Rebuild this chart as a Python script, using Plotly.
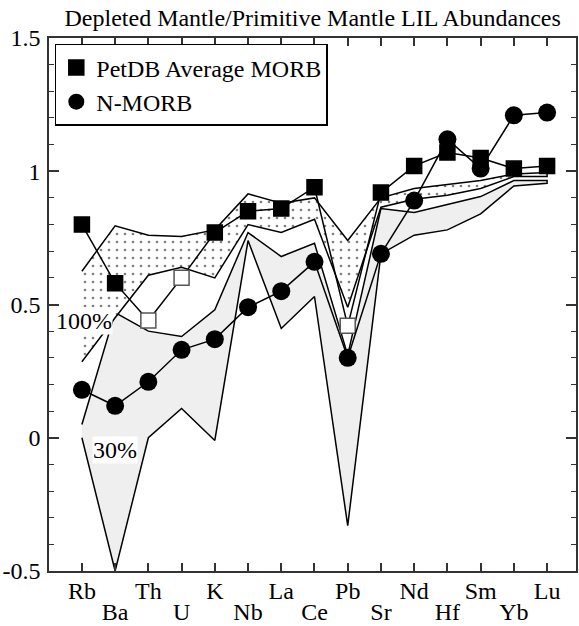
import plotly.graph_objects as go

# Element order along the x axis
elements = ["Rb", "Ba", "Th", "U", "K", "Nb", "La", "Ce", "Pb",
            "Sr", "Nd", "Hf", "Sm", "Yb", "Lu"]

# PetDB average MORB (open symbols where the value is less certain)
petdb = [0.80, 0.58, 0.44, 0.60, 0.77, 0.85, 0.86, 0.94, 0.42,
         0.92, 1.02, 1.07, 1.05, 1.01, 1.02]
petdb_open = ["Th", "U", "Pb"]

# N-MORB
nmorb = [0.18, 0.12, 0.21, 0.33, 0.37, 0.49, 0.55, 0.66, 0.30,
         0.69, 0.89, 1.12, 1.01, 1.21, 1.22]

# Model envelope, 100% case (stippled band)
band100_hi = [0.625, 0.795, 0.76, 0.755, 0.78, 0.915, 0.88, 0.90, 0.74,
              0.90, 0.935, 0.95, 0.965, 0.99, 0.995]
band100_lo = [0.285, 0.45, 0.61, 0.64, 0.60, 0.80, 0.77, 0.82, 0.49,
              0.865, 0.895, 0.91, 0.935, 0.98, 0.98]

# Model envelope, 30% case (grey band)
band30_hi = [0.05, 0.47, 0.40, 0.38, 0.48, 0.77, 0.68, 0.73, 0.31,
             0.86, 0.845, 0.875, 0.905, 0.965, 0.965]
band30_lo = [0.00, -0.50, 0.00, 0.11, -0.01, 0.74, 0.41, 0.53, -0.33,
             0.69, 0.76, 0.78, 0.84, 0.945, 0.955]

y_ticks = [-0.5, 0, 0.5, 1, 1.5]
y_ticktext = ["-0.5", "0", "0.5", "1", "1.5"]

FONT = "Liberation Serif"
FS = 24
idx = list(range(len(elements)))
ridx = idx[::-1]

fig = go.Figure()

# grey 30% envelope
fig.add_trace(go.Scatter(
    x=idx + ridx, y=band30_hi + band30_lo[::-1],
    mode="lines", fill="toself", fillcolor="#efefef",
    line=dict(color="black", width=1.5), showlegend=False, hoverinfo="skip"))

# stippled 100% envelope
fig.add_trace(go.Scatter(
    x=idx + ridx, y=band100_hi + band100_lo[::-1],
    mode="lines", fill="toself", fillcolor="white",
    fillpattern=dict(shape=".", fgcolor="black", bgcolor="white",
                     size=8, solidity=0.09),
    line=dict(color="black", width=1.5), showlegend=False, hoverinfo="skip"))

# connecting lines
fig.add_trace(go.Scatter(x=idx, y=nmorb, mode="lines", xaxis="x2",
                         line=dict(color="black", width=1.5),
                         showlegend=False, hoverinfo="skip"))
fig.add_trace(go.Scatter(x=idx, y=petdb, mode="lines",
                         line=dict(color="black", width=1.5),
                         showlegend=False, hoverinfo="skip"))

# N-MORB markers
fig.add_trace(go.Scatter(
    x=idx, y=nmorb, mode="markers", name="N-MORB",
    marker=dict(symbol="circle", size=18, color="black",
                line=dict(color="black", width=0))))

# PetDB markers
fill_cols = ["white" if e in petdb_open else "black" for e in elements]
edge_cols = ["#555555" if e in petdb_open else "black" for e in elements]
fig.add_trace(go.Scatter(
    x=idx, y=petdb, mode="markers", name="PetDB Average MORB",
    marker=dict(symbol="square", size=15, color=fill_cols,
                line=dict(color=edge_cols, width=1.5))))

# band labels
fig.add_annotation(x=0.05, y=0.437, text="100%", showarrow=False,
                   bgcolor="white", borderpad=0,
                   font=dict(family=FONT, size=FS, color="black"))
fig.add_annotation(x=1.0, y=-0.045, text="30%", showarrow=False,
                   bgcolor="white", borderpad=0,
                   font=dict(family=FONT, size=FS, color="black"))

even_text = [e if i % 2 == 0 else "" for i, e in enumerate(elements)]
odd_vals = [i for i in idx if i % 2 == 1]
odd_text = [elements[i] for i in odd_vals]

fig.update_layout(
    width=579, height=626,
    margin=dict(l=49, r=1, t=38, b=54),
    paper_bgcolor="white", plot_bgcolor="white",
    font=dict(family=FONT, size=FS, color="black"),
    title=dict(text="Depleted Mantle/Primitive Mantle LIL Abundances",
               x=0.54, xanchor="center", y=0.972, yanchor="middle",
               font=dict(family=FONT, size=FS, color="black")),
    legend=dict(x=0.011, y=0.989, xanchor="left", yanchor="top",
                bgcolor="white", bordercolor="black", borderwidth=1.5,
                font=dict(family=FONT, size=FS, color="black"),
                traceorder="reversed", itemwidth=30, tracegroupgap=0),
    xaxis=dict(range=[-0.99, 14.87], tickvals=idx, ticktext=even_text,
               ticks="inside", ticklen=8, tickwidth=1.5, tickcolor="#333",
               showline=True, linecolor="#333", linewidth=1.5,
               mirror="ticks", showgrid=False, zeroline=False,
               ticklabelstandoff=-3),
    xaxis2=dict(overlaying="x", matches="x", anchor="y", side="bottom",
                tickvals=odd_vals, ticktext=odd_text, ticks="",
                showline=False, showgrid=False, zeroline=False,
                ticklabelstandoff=24),
    yaxis=dict(range=[-0.5, 1.5], tickvals=y_ticks, ticktext=y_ticktext,
               ticks="inside", ticklen=10, tickwidth=1.5, tickcolor="#333",
               minor=dict(dtick=0.1, ticks="inside", ticklen=5,
                          tickwidth=1.2, tickcolor="#333"),
               showline=True, linecolor="#333", linewidth=1.5,
               mirror="ticks", showgrid=False, zeroline=False,
               ticklabelstandoff=2),
)

fig.write_html("out.html")
